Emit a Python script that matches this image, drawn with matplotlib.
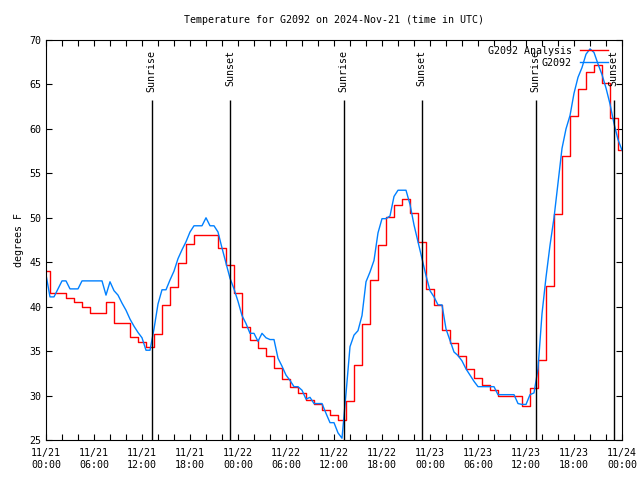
import numpy as np
import pandas as pd
import matplotlib
matplotlib.use('Agg')
from matplotlib import pyplot as plt
import matplotlib.dates as mdates

plt.rcParams['font.family'] = 'DejaVu Sans Mono'
plt.rcParams['font.size'] = 7.2

# hourly analysis values (red), 11/21 00:00 .. 11/24 00:00
analysis_temps = [44, 41.5, 41.5, 41, 40.5, 40, 39.3, 39.3, 40.5, 38.2, 38.2, 36.6,
                  36.0, 35.5, 36.9, 40.2, 42.25, 44.9, 47.1, 48.1, 48.1, 48.1, 46.6, 44.7,
                  41.5, 37.75, 36.25, 35.3, 34.5, 33.1, 31.9, 31.0, 30.25, 29.5, 29.0, 28.4,
                  27.8, 27.3, 29.4, 33.4, 38.1, 43.0, 46.9, 50.1, 51.4, 52.1, 50.5, 47.3,
                  42.0, 40.2, 37.4, 35.9, 34.4, 33.0, 32.0, 31.2, 30.6, 30.0, 30.0, 30.0,
                  28.8, 30.8, 34.0, 42.3, 50.4, 57.0, 61.5, 64.45, 66.45, 67.2, 65.2, 61.2,
                  57.6]

# half-hourly station values (blue)
station_temps = [43.6, 41.1, 41.1, 42.0, 42.9, 42.9, 42.0, 42.0, 42.0, 42.9, 42.9, 42.9,
                 42.9, 42.9, 42.9, 41.3, 42.8, 41.8, 41.3, 40.4, 39.6, 38.6, 37.8, 37.1,
                 36.5, 35.1, 35.1, 37.5, 40.3, 41.9, 41.9, 43.0, 44.0, 45.4, 46.4, 47.3,
                 48.4, 49.1, 49.1, 49.1, 50.0, 49.1, 49.1, 48.4, 46.6, 44.9, 43.2, 42.0,
                 40.6, 39.0, 38.1, 37.0, 37.0, 36.1, 37.0, 36.5, 36.3, 36.3, 34.2, 33.3,
                 32.3, 31.7, 31.0, 31.0, 30.6, 29.6, 29.8, 29.1, 29.1, 29.1, 28.0, 26.95,
                 26.95, 25.8, 25.2, 30.2, 35.5, 36.8, 37.3, 39.0, 42.8, 43.9, 45.2, 48.3,
                 49.9, 49.9, 50.2, 52.4, 53.1, 53.1, 53.1, 51.5, 49.2, 47.3, 45.4, 43.5,
                 41.8, 41.1, 40.2, 40.2, 37.5, 36.2, 34.9, 34.5, 33.9, 33.0, 32.3, 31.6,
                 31.0, 31.0, 31.0, 31.0, 31.0, 30.1, 30.1, 30.1, 30.1, 30.1, 29.1, 29.0,
                 29.0, 30.1, 30.3, 33.0, 39.2, 43.3, 46.9, 50.0, 53.9, 57.8, 60.0, 61.5,
                 64.0, 65.8, 66.9, 68.4, 69.0, 68.6, 67.3, 66.1, 64.6, 62.8, 60.6, 58.8,
                 57.6]

analysis_times = pd.date_range('2024-11-21 00:00', periods=len(analysis_temps), freq='1h')
station_times = pd.date_range('2024-11-21 00:00', periods=len(station_temps), freq='30min')

sun_times = pd.to_datetime(['2024-11-21 13:12', '2024-11-21 23:00',
                            '2024-11-22 13:13', '2024-11-22 22:57',
                            '2024-11-23 13:14', '2024-11-23 22:57'])
sun_labels = ['Sunrise', 'Sunset', 'Sunrise', 'Sunset', 'Sunrise', 'Sunset']

fig = plt.figure(figsize=(6.4, 4.8), dpi=100)
ax = fig.add_axes([46/640, 40/480, 576/640, 400/480])

ax.plot(analysis_times, analysis_temps, color='#ff0000', lw=1.0,
        drawstyle='steps-mid', label='G2092 Analysis')
ax.plot(station_times, station_temps, color='#0080ff', lw=1.0, label='G2092')

for t, lab in zip(sun_times, sun_labels):
    ax.vlines(t, 25, 63.3, color='black', lw=1.0)
    ax.text(t, 68.9, lab, rotation=90, ha='center', va='top')

ax.set_xlim(pd.Timestamp('2024-11-21 00:00'), pd.Timestamp('2024-11-24 00:00'))
ax.set_ylim(25, 70)
ax.set_yticks(np.arange(25, 71, 5))
ax.xaxis.set_major_locator(mdates.HourLocator(byhour=[0, 6, 12, 18]))
ax.xaxis.set_minor_locator(mdates.HourLocator(byhour=range(0, 24, 2)))
ax.xaxis.set_major_formatter(mdates.DateFormatter('%m/%d\n%H:%M'))
ax.tick_params(which='both', direction='in', top=True, right=True, length=4,
               width=0.8, labelsize=7.2)
ax.tick_params(axis='x', which='major', pad=6)

ax.set_ylabel('degrees F')
ax.set_title('Temperature for G2092 on 2024-Nov-21 (time in UTC)', fontsize=7.2, pad=12)

ax.legend(loc='upper right', bbox_to_anchor=(1 - 8/576, 1), frameon=False,
          markerfirst=False, handlelength=2.8, borderaxespad=0.2,
          labelspacing=0.2, handletextpad=0.8)

fig.savefig('out.png', dpi=100)
